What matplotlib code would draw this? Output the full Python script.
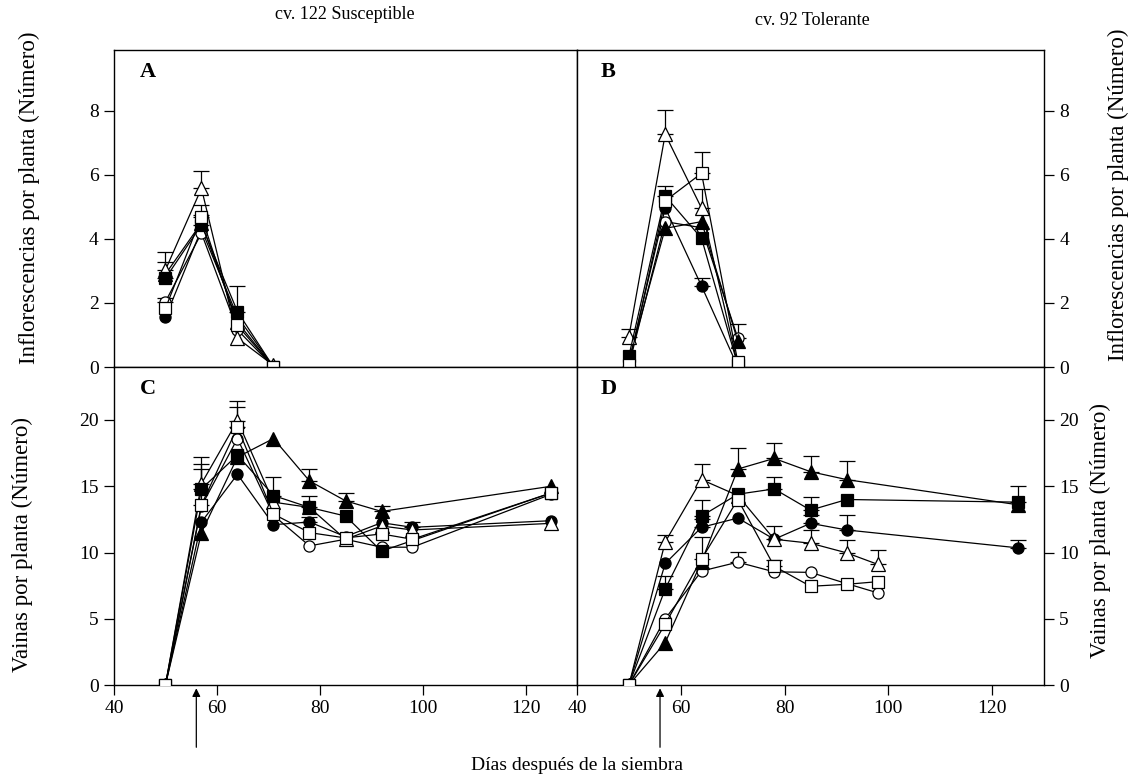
import numpy as np
import matplotlib
matplotlib.use("Agg")
from matplotlib import pyplot as plt

plt.rcParams["font.family"] = ["Liberation Serif", "DejaVu Serif"]

nan = np.nan

# days after sowing
dias_flor = [50, 57, 64, 71]
dias_vaina = [50, 57, 64, 71, 78, 85, 92, 98, 125]

# markers: filled circle, open circle, filled triangle, open triangle, filled square, open square
series_keys = ["fc", "oc", "ft", "ot", "fs", "os"]

# A: cv. 122, inflorescences
a_fc = [1.55, 4.30, 1.57, 0.0]
a_oc = [2.04, 4.18, 1.16, 0.0]
a_ft = [2.90, 4.50, 1.40, 0.0]
a_ot = [3.03, 5.58, 0.90, 0.05]
a_fs = [2.77, 4.44, 1.73, 0.0]
a_os = [1.83, 4.70, 1.30, 0.0]
a_err_ot = [0.55, 0.55, 0.0, 0.0]
a_err_fs = [0.50, 0.30, 0.80, 0.0]
a_err_os = [0.0, 0.35, 0.0, 0.0]
a_err_oc = [0.12, 0.0, 0.0, 0.0]

# B: cv. 92, inflorescences
b_fc = [0.15, 4.97, 2.53, 0.0]
b_oc = [0.05, 4.54, 4.35, 0.90]
b_ft = [0.20, 4.33, 4.54, 0.80]
b_ot = [0.95, 7.27, 4.96, 0.05]
b_fs = [0.34, 5.34, 4.02, 0.05]
b_os = [0.05, 5.19, 6.05, 0.15]
b_err_ot = [0.23, 0.75, 0.60, 0.0]
b_err_os = [0.0, 0.0, 0.65, 0.0]
b_err_fs = [0.0, 0.32, 0.0, 0.0]
b_err_fc = [0.0, 0.0, 0.25, 0.0]
b_err_oc = [0.0, 0.0, 0.0, 0.45]

# C: cv. 122, pods
c_fc = [0, 12.3, 15.9, 12.1, 12.3, 11.2, 12.25, 11.9, 12.4]
c_oc = [0, 13.5, 18.6, 12.8, 10.5, 11.0, 10.4, 10.4, 14.4]
c_ft = [0, 11.5, 17.2, 18.6, 15.4, 13.9, 13.1, nan, 15.0]
c_ot = [0, 15.2, 19.95, 13.8, 13.4, 11.0, 12.0, 11.7, 12.2]
c_fs = [0, 14.8, 17.35, 14.3, 13.4, 12.75, 10.1, nan, 14.5]
c_os = [0, 13.6, 19.45, 12.9, 11.5, 11.1, 11.4, 11.0, 14.5]
c_err_fs = [0, 2.4, 0, 1.4, 0.9, 0, 0, 0, 0]
c_err_ot = [0, 1.5, 1.45, 0, 0, 0, 0, 0, 0]
c_err_os = [0, 2.7, 1.55, 0, 0, 0, 0, 0, 0]
c_err_ft = [0, 0, 0, 0, 0.9, 0.6, 0.4, 0, 0]
c_err_fc = [0, 0, 0, 0, 0.4, 0, 0, 0.4, 0]

# D: cv. 92, pods
d_fc = [0, 9.17, 11.9, 12.6, 11.0, 12.2, 11.7, nan, 10.35]
d_oc = [0, 5.0, 8.6, 9.27, 8.54, 8.5, 7.65, 6.95, nan]
d_ft = [0, 3.2, 9.3, 16.3, 17.1, 16.1, 15.5, nan, 13.6]
d_ot = [0, 10.8, 15.5, 14.3, 11.0, 10.7, 9.97, 9.1, nan]
d_fs = [0, 7.25, 12.75, 14.4, 14.8, 13.2, 14.0, nan, 13.8]
d_os = [0, 4.6, 9.5, 14.0, 8.96, 7.45, 7.6, 7.8, nan]
d_err_ft = [0, 0, 0, 1.6, 1.2, 1.2, 1.4, 0, 0]
d_err_fs = [0, 0.95, 1.2, 0, 0.9, 1.0, 0, 0, 1.2]
d_err_fc = [0, 0, 0.6, 0, 0, 0.6, 1.1, 0, 0.6]
d_err_ot = [0, 0.5, 1.2, 0, 1.0, 1.0, 1.0, 1.1, 0]
d_err_oc = [0, 0, 0, 0.75, 0, 0, 0, 0, 0]
d_err_os = [0, 0, 1.7, 0, 0.5, 0, 0, 0, 0]

estilos = {
    "fc": dict(marker="o", mfc="black", ms=8),
    "oc": dict(marker="o", mfc="white", ms=8),
    "ft": dict(marker="^", mfc="black", ms=10),
    "ot": dict(marker="^", mfc="white", ms=10),
    "fs": dict(marker="s", mfc="black", ms=8),
    "os": dict(marker="s", mfc="white", ms=8),
}

paneles = {
    "A": (dias_flor, dict(fc=a_fc, oc=a_oc, ft=a_ft, ot=a_ot, fs=a_fs, os=a_os),
          dict(ot=a_err_ot, fs=a_err_fs, os=a_err_os, oc=a_err_oc)),
    "B": (dias_flor, dict(fc=b_fc, oc=b_oc, ft=b_ft, ot=b_ot, fs=b_fs, os=b_os),
          dict(ot=b_err_ot, os=b_err_os, fs=b_err_fs, fc=b_err_fc, oc=b_err_oc)),
    "C": (dias_vaina, dict(fc=c_fc, oc=c_oc, ft=c_ft, ot=c_ot, fs=c_fs, os=c_os),
          dict(fs=c_err_fs, ot=c_err_ot, os=c_err_os, ft=c_err_ft, fc=c_err_fc)),
    "D": (dias_vaina, dict(fc=d_fc, oc=d_oc, ft=d_ft, ot=d_ot, fs=d_fs, os=d_os),
          dict(ft=d_err_ft, fs=d_err_fs, fc=d_err_fc, ot=d_err_ot, oc=d_err_oc, os=d_err_os)),
}

fig = plt.figure(figsize=(11.39, 7.83), dpi=100)
pos = {
    "A": [114 / 1139, 1 - 367 / 783, 463 / 1139, 317 / 783],
    "B": [577 / 1139, 1 - 367 / 783, 467 / 1139, 317 / 783],
    "C": [114 / 1139, 1 - 685 / 783, 463 / 1139, 318 / 783],
    "D": [577 / 1139, 1 - 685 / 783, 467 / 1139, 318 / 783],
}

axes = {}
for letra, (dias, vals, errs) in paneles.items():
    ax = fig.add_axes(pos[letra])
    axes[letra] = ax
    x = np.array(dias, dtype=float)
    for k in series_keys:
        y = np.array(vals[k], dtype=float)
        if k in errs:
            e = np.array(errs[k], dtype=float)
            m = (e > 0) & ~np.isnan(y)
            ax.errorbar(x[m], y[m], yerr=[np.zeros(m.sum()), e[m]], fmt="none",
                        ecolor="black", elinewidth=0.9, capsize=6, capthick=0.9, zorder=2)
        ok = ~np.isnan(y)
        ax.plot(x[ok], y[ok], color="black", lw=0.9, mec="black", mew=0.9,
                zorder=3, **estilos[k])
    ax.set_xlim(40, 130)
    for s in ax.spines.values():
        s.set_linewidth(1.0)
    ax.tick_params(direction="out", length=7, width=0.9, labelsize=14, pad=4)
    ax.text(0.055 if letra in "AC" else 0.05, 0.93, letra, transform=ax.transAxes,
            fontsize=16, fontweight="bold", va="center", ha="left")

for letra in "AB":
    axes[letra].set_ylim(0, 9.9)
    axes[letra].set_yticks([0, 2, 4, 6, 8])
    axes[letra].set_xticks([])
for letra in "CD":
    axes[letra].set_ylim(0, 24)
    axes[letra].set_yticks([0, 5, 10, 15, 20])
    axes[letra].set_xticks([40, 60, 80, 100, 120])
for letra in "BD":
    axes[letra].yaxis.tick_right()

# arrows marking day 56
for letra in "CD":
    axes[letra].annotate("", xy=(56, -0.25), xytext=(56, -4.7), annotation_clip=False,
                         arrowprops=dict(arrowstyle="-|>", color="black", lw=0.9,
                                         mutation_scale=12, shrinkA=0, shrinkB=0))

fig.text(0.303, 0.981, "cv. 122 Susceptible", ha="center", va="center", fontsize=13)
fig.text(0.713, 0.974, "cv. 92 Tolerante", ha="center", va="center", fontsize=13)
fig.text(0.507, 0.022, "Días después de la siembra", ha="center", va="center", fontsize=14)
fig.text(0.0255, 0.747, "Inflorescencias por planta (Número)", rotation=90,
         ha="center", va="center", fontsize=16.5)
fig.text(0.0195, 0.304, "Vainas por planta (Número)", rotation=90,
         ha="center", va="center", fontsize=16.5)
fig.text(0.982, 0.751, "Inflorescencias por planta (Número)", rotation=90,
         ha="center", va="center", fontsize=16.5)
fig.text(0.966, 0.322, "Vainas por planta (Número)", rotation=90,
         ha="center", va="center", fontsize=16.5)

plt.savefig("out.png", dpi=100)
